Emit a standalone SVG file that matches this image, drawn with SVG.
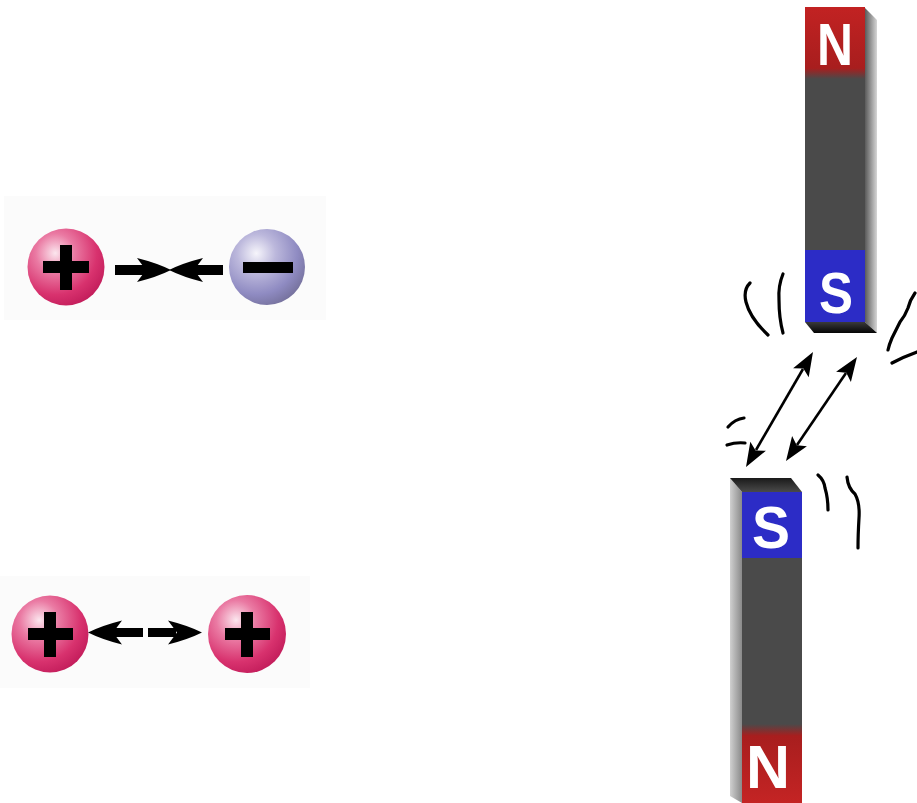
<svg xmlns="http://www.w3.org/2000/svg" width="917" height="803" viewBox="0 0 917 803">
  <defs>
    <radialGradient id="gradPos" cx="0.36" cy="0.32" r="0.72">
      <stop offset="0" stop-color="#fbe6ee"/>
      <stop offset="0.35" stop-color="#ea7aa3"/>
      <stop offset="0.75" stop-color="#d8326e"/>
      <stop offset="1" stop-color="#c41e5c"/>
    </radialGradient>
    <radialGradient id="gradNeg" cx="0.36" cy="0.32" r="0.72">
      <stop offset="0" stop-color="#f6f5fb"/>
      <stop offset="0.35" stop-color="#bcb8dc"/>
      <stop offset="0.75" stop-color="#8f8bc2"/>
      <stop offset="1" stop-color="#77739f"/>
    </radialGradient>
    <linearGradient id="sideRight" x1="0" y1="0" x2="1" y2="0">
      <stop offset="0" stop-color="#5a5a5a"/>
      <stop offset="1" stop-color="#d6d6d6"/>
    </linearGradient>
    <linearGradient id="sideLeft" x1="0" y1="0" x2="1" y2="0">
      <stop offset="0" stop-color="#d0d0d0"/>
      <stop offset="1" stop-color="#8a8a8a"/>
    </linearGradient>
    <linearGradient id="faceDark" x1="0" y1="0" x2="0" y2="1">
      <stop offset="0" stop-color="#1a1a1a"/>
      <stop offset="1" stop-color="#4a4a4a"/>
    </linearGradient>
    <linearGradient id="faceDarkDown" x1="0" y1="0" x2="0" y2="1">
      <stop offset="0" stop-color="#3a3a3a"/>
      <stop offset="1" stop-color="#050505"/>
    </linearGradient>
    <linearGradient id="redToGray" x1="0" y1="0" x2="0" y2="1">
      <stop offset="0" stop-color="#c22222"/>
      <stop offset="0.85" stop-color="#a81e1e"/>
      <stop offset="1" stop-color="#4a4a4a"/>
    </linearGradient>
    <linearGradient id="grayToRed" x1="0" y1="0" x2="0" y2="1">
      <stop offset="0" stop-color="#4a4a4a"/>
      <stop offset="0.15" stop-color="#a81e1e"/>
      <stop offset="1" stop-color="#c42424"/>
    </linearGradient>
    <!-- swept-back arrow pointing right, tip at origin -->
    <path id="arrowR" d="M0 0 Q-14 -7 -34 -12 L-25 0 L-34 12 Q-14 7 0 0 Z"/>
  </defs>

  <style>
    .bg { fill: #fbfbfb; }
    .sign { fill: #000; }
    .shaft { fill: #000; }
    .pole { font-family: "Liberation Sans", Arial, sans-serif; font-weight: bold; fill: #fff; text-anchor: middle; }
    .field { fill: none; stroke: #000; stroke-width: 3.2; stroke-linecap: round; stroke-linejoin: round; }
    .link { fill: none; stroke: #000; stroke-width: 2.6; }
    .tip { fill: #000; }
  </style>

  <rect width="917" height="803" fill="#fff"/>

  <!-- opposite charges attract -->
  <rect class="bg" x="4" y="196" width="322" height="124"/>
  <g id="charge-pos-top">
    <circle cx="66" cy="267" r="38.5" fill="url(#gradPos)"/>
    <rect class="sign" x="43" y="261" width="46" height="12"/>
    <rect class="sign" x="60" y="245" width="12" height="45"/>
  </g>
  <g id="charge-neg-top">
    <circle cx="267" cy="267" r="38" fill="url(#gradNeg)"/>
    <rect class="sign" x="243" y="262" width="50" height="11"/>
  </g>

  <!-- like charges repel -->
  <rect class="bg" x="0" y="576" width="310" height="112"/>
  <g id="charge-pos-left">
    <circle cx="50" cy="634" r="38.5" fill="url(#gradPos)"/>
    <rect class="sign" x="28" y="628" width="45" height="12"/>
    <rect class="sign" x="44" y="612" width="12" height="45"/>
  </g>
  <g id="charge-pos-right">
    <circle cx="247" cy="634" r="39" fill="url(#gradPos)"/>
    <rect class="sign" x="225" y="628" width="45" height="12"/>
    <rect class="sign" x="241" y="612" width="12" height="45"/>
  </g>

  <!-- upper magnet -->
  <g id="magnet-top">
    <polygon points="865,8 877,20 877,333 865,322" fill="url(#sideRight)"/>
    <polygon points="805,322 865,322 877,333 814,333" fill="url(#faceDarkDown)"/>
    <rect x="805" y="7" width="60" height="72" fill="url(#redToGray)"/>
    <rect x="805" y="79" width="60" height="172" fill="#4a4a4a"/>
    <rect x="805" y="250" width="60" height="72" fill="#2c2cc6"/>
    <text class="pole" x="835" y="65" font-size="59" textLength="36" lengthAdjust="spacingAndGlyphs">N</text>
    <text class="pole" x="836" y="313" font-size="57" textLength="34" lengthAdjust="spacingAndGlyphs">S</text>
  </g>

  <!-- lower magnet -->
  <g id="magnet-bottom">
    <polygon points="730,478 742,492 742,803 730,796" fill="url(#sideLeft)"/>
    <polygon points="730,478 791,478 802,492 742,492" fill="url(#faceDark)"/>
    <rect x="742" y="492" width="60" height="67" fill="#2c2cc6"/>
    <rect x="742" y="558" width="60" height="168" fill="#4a4a4a"/>
    <rect x="742" y="724" width="60" height="79" fill="url(#grayToRed)"/>
    <text class="pole" x="771" y="548" font-size="60" textLength="38" lengthAdjust="spacingAndGlyphs">S</text>
    <text class="pole" x="768" y="788" font-size="61" textLength="44" lengthAdjust="spacingAndGlyphs">N</text>
  </g>

  <g id="connectors">
    <!-- attraction arrows between charges -->
    <rect class="shaft" x="115" y="265" width="35" height="10"/>
    <use href="#arrowR" transform="translate(171 270)"/>
    <rect class="shaft" x="192" y="265" width="31" height="10"/>
    <use href="#arrowR" transform="translate(169 270) scale(-1 1)"/>

    <!-- repulsion arrows between charges -->
    <rect class="shaft" x="110" y="628" width="33" height="9"/>
    <use href="#arrowR" transform="translate(88 632.5) scale(-1 1)"/>
    <rect class="shaft" x="148" y="628" width="28" height="9"/>
    <use href="#arrowR" transform="translate(202 632.5)"/>

    <!-- attraction between the south poles -->
    <line class="link" x1="803" y1="369" x2="756" y2="450"/>
    <polygon class="tip" points="813,352 808.7,377.3 803.4,368.4 793.1,368.3"/>
    <polygon class="tip" points="746,467 750.3,441.7 755.6,450.6 765.9,450.7"/>
    <line class="link" x1="846" y1="373" x2="797" y2="445"/>
    <polygon class="tip" points="857,357 850.9,381.9 846.3,372.7 836.1,371.7"/>
    <polygon class="tip" points="786,461 792.1,436.1 796.7,445.3 806.9,446.3"/>

    <!-- field lines -->
    <path class="field" d="M750 283 Q743 290 746 302 Q750 318 768 335"/>
    <path class="field" d="M783 274 Q778 286 779 300 Q779 318 783 333"/>
    <path class="field" d="M915 293 Q910 300 908 308 Q905 316 900 322 Q896 330 892 338 Q889 345 888 350"/>
    <path class="field" d="M892 363 Q903 357 917 352"/>
    <path class="field" d="M728 427 Q735 419 744 418"/>
    <path class="field" d="M727 445 Q736 442 745 443"/>
    <path class="field" d="M818 475 Q824 480 825 488 Q828 498 828 510"/>
    <path class="field" d="M847 477 Q848 488 855 494 Q860 503 859 518 Q858 535 858 548"/>
  </g>
</svg>
